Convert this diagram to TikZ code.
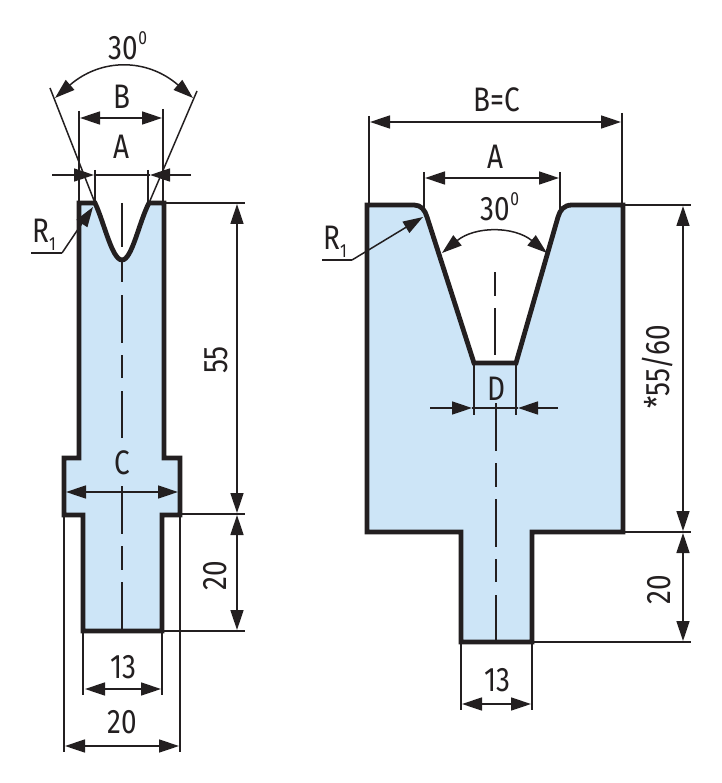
\documentclass[tikz,border=0pt]{standalone}
\usepackage{fontspec}
\setmainfont[FakeStretch=0.82]{Fira Sans}
\usetikzlibrary{arrows.meta}
\definecolor{fillblue}{HTML}{CDE5F7}
\definecolor{ink}{HTML}{231F20}
\tikzset{
  x=1pt,y=-1pt,
  part/.style={draw=ink,line width=4.8pt,fill=fillblue,miter limit=10},
  thin line/.style={draw=ink,line width=1.5pt},
  center line/.style={draw=ink,line width=1.4pt},
  dim/.style={thin line,{Triangle[length=20pt,width=13pt]}-{Triangle[length=20pt,width=13pt]}},
  tipend/.style={thin line,-{Triangle[length=20pt,width=13pt]}},
  lbl/.style={inner sep=0pt,text=ink,font=\fontsize{34}{34}\selectfont},
}
\newcommand{\supz}{\raisebox{15pt}{\fontsize{19}{19}\selectfont 0}}
\newcommand{\subo}{\raisebox{-8pt}{\fontsize{19}{19}\selectfont 1}}
\begin{document}
\begin{tikzpicture}
\useasboundingbox (0,0) rectangle (721,783);
% left part
\draw[part] (79,203) -- (95,203) .. controls (104,222) and (112,260) .. (122,260)
  .. controls (132,260) and (139,222) .. (149,203) -- (164,203) -- (164,458) -- (180,458)
  -- (180,515) -- (162,515) -- (162,631) -- (83,631) -- (83,515) -- (64,515) -- (64,458)
  -- (79,458) -- cycle;
% right part
\draw[part] (367,205) -- (414,205) .. controls (421,205) and (425,210) .. (427,217)
  -- (474,363) -- (516,363) -- (558,217) .. controls (560,210) and (564,205) .. (572,205)
  -- (623,205) -- (623,532) -- (532,532) -- (532,642) -- (461,642) -- (461,532) -- (367,532) -- cycle;
% left centre line
\draw[center line] (122,203) -- (122,247);
\draw[center line] (122,262) -- (122,282);
\draw[center line] (122,295) -- (122,343);
\draw[center line] (122,355) -- (122,378);
\draw[center line] (122,391) -- (122,438);
\draw[center line] (122,486) -- (122,534);
\draw[center line] (122,546) -- (122,570);
\draw[center line] (122,582) -- (122,631);
% left construction lines
\draw[thin line] (50,88) -- (95,203);
\draw[thin line] (197,91) -- (149,203);
\draw[thin line] (79,111) -- (79,203);
\draw[thin line] (163,109) -- (163,203);
\draw[thin line] (95,170) -- (95,203);
\draw[thin line] (148,170) -- (148,203);
\draw[thin line] (164,203) -- (245,203);
\draw[thin line] (180,514) -- (245,514);
\draw[thin line] (162,631) -- (245,631);
\draw[thin line] (64,515) -- (64,752);
\draw[thin line] (180,515) -- (180,752);
\draw[thin line] (83,631) -- (83,695);
\draw[thin line] (162,631) -- (162,695);
% left dimensions
\coordinate (la1) at (55,98); \coordinate (la2) at (193,98);
\draw[dim] (la1) .. controls (101,58) and (147,58) .. (la2);
\draw[dim] (80,118) -- (162,118);
\draw[tipend] (52,175) -- (94,175);
\draw[tipend] (191,175) -- (150,175);
\draw[thin line] (94,175) -- (150,175);
\draw[dim] (237,204) -- (237,513);
\draw[dim] (237,515) -- (237,630);
\draw[dim] (66,492) -- (178,492);
\draw[dim] (85,689) -- (161,689);
\draw[dim] (65,746) -- (179,746);
\coordinate (lr1) at (31,253); \coordinate (lr2) at (62,253); \coordinate (lr3) at (93,207);
\draw[thin line] (lr1) -- (lr2);
\draw[tipend] (lr2) -- (lr3);
% right centre line
\draw[center line] (495,272) -- (495,296);
\draw[center line] (495,308) -- (495,355);
\draw[center line] (496,403) -- (496,451);
\draw[center line] (496,463) -- (496,487);
\draw[center line] (496,499) -- (496,547);
\draw[center line] (496,559) -- (496,582);
\draw[center line] (496,595) -- (496,642);
% right construction lines
\draw[thin line] (369,116) -- (369,205);
\draw[thin line] (622,113) -- (622,205);
\draw[thin line] (424,172) -- (424,209);
\draw[thin line] (560,172) -- (560,211);
\draw[thin line] (623,205) -- (691,205);
\draw[thin line] (623,532) -- (691,532);
\draw[thin line] (532,642) -- (691,642);
\draw[thin line] (474,363) -- (474,415);
\draw[thin line] (516,363) -- (516,415);
\draw[thin line] (461,642) -- (461,710);
\draw[thin line] (532,642) -- (532,710);
% right dimensions
\draw[dim] (370,122) -- (621,122);
\draw[dim] (425,178) -- (559,178);
\coordinate (ra1) at (442,253); \coordinate (ra2) at (547,253);
\draw[dim] (ra1) .. controls (475,226) and (514,226) .. (ra2);
\draw[tipend] (430,408) -- (472,408);
\draw[tipend] (558,408) -- (518,408);
\draw[thin line] (472,408) -- (518,408);
\draw[dim] (683,206) -- (683,531);
\draw[dim] (683,533) -- (683,641);
\draw[dim] (462,704) -- (531,704);
\coordinate (rr1) at (322,260); \coordinate (rr2) at (352,260); \coordinate (rr3) at (423,217);
\draw[thin line] (rr1) -- (rr2);
\draw[tipend] (rr2) -- (rr3);
% labels
\node[lbl] (t30l) at (128,46) {30\supz};
\node[lbl] (tBl) at (122,97) {B};
\node[lbl] (tAl) at (121,147) {A};
\node[lbl] (tRl) at (44,235) {R\subo};
\node[lbl,rotate=90] (t55) at (216,360) {55};
\node[lbl] (tC) at (122,463) {C};
\node[lbl,rotate=90] (t20l) at (215,576) {20};
\node[lbl] (t13l) at (123,667) {13};
\node[lbl] (t20b) at (122,722) {20};
\node[lbl] (tBC) at (497,100) {B=C};
\node[lbl] (tAr) at (495,157) {A};
\node[lbl] (t30r) at (500,207) {30\supz};
\node[lbl] (tRr) at (335,242) {R\subo};
\node[lbl] (tD) at (496,389) {D};
\node[lbl,rotate=90] (t5560) at (658,367) {*55/60};
\node[lbl,rotate=90] (t20r) at (659,590) {20};
\node[lbl] (t13r) at (497,680) {13};
\end{tikzpicture}
\end{document}
